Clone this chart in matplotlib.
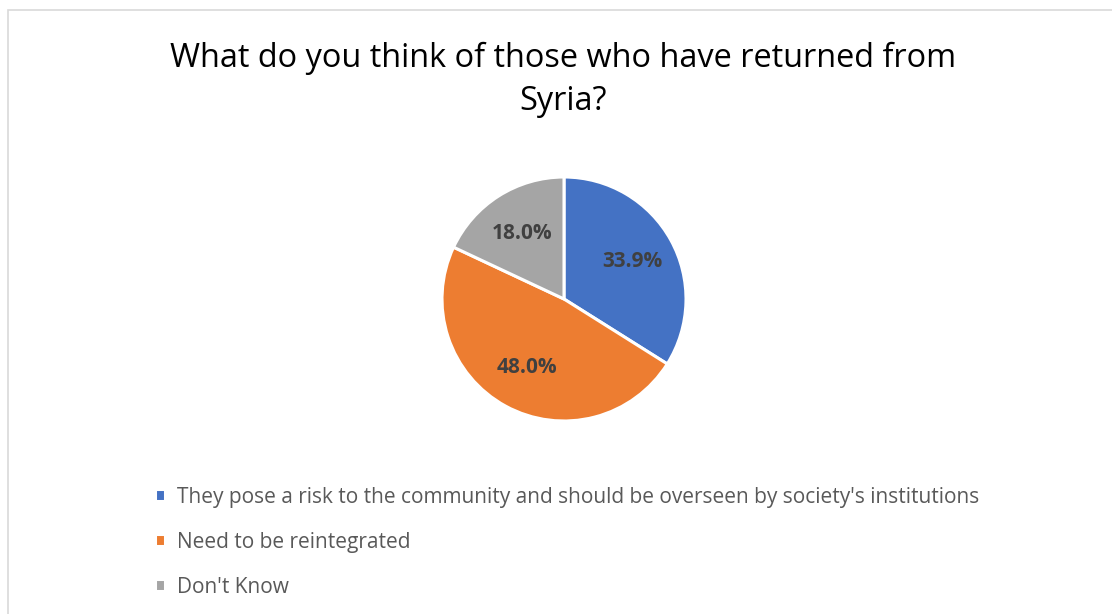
import matplotlib
matplotlib.use("Agg")
import matplotlib.pyplot as plt
from matplotlib.patches import Rectangle

title = "What do you think of those who have returned from\nSyria?"
categories = ["They pose a risk to the community and should be overseen by society's institutions",
              "Need to be reintegrated",
              "Don't Know"]
values = [33.9, 48.0, 18.0]
colors = ["#4472C4", "#ED7D31", "#A5A5A5"]

W, H = 1112, 614
fig = plt.figure(figsize=(W / 100, H / 100), dpi=100)
fig.patch.set_facecolor("white")

def fx(px):
    return px / W

def fy(py):
    return 1 - py / H

# chart frame
fig.patches.append(Rectangle((fx(8), fy(640)), fx(1130) - fx(8), fy(10) - fy(640),
                             transform=fig.transFigure, fill=False,
                             edgecolor="#D9D9D9", linewidth=1.2))

cx, cy, r = 564, 299, 122
ax = fig.add_axes([fx(cx - r), fy(cy + r), 2 * r / W, 2 * r / H])
labels_iter = iter(values)
wedges, texts, autotexts = ax.pie(
    values, colors=colors, startangle=90, counterclock=False,
    autopct=lambda p: f"{next(labels_iter):.1f}%", pctdistance=0.64,
    wedgeprops=dict(edgecolor="white", linewidth=2.2),
    textprops=dict(fontsize=15, fontweight="bold", color="#404040", family="Open Sans"))
ax.set_aspect("equal")
ax.set_xlim(-1, 1)
ax.set_ylim(-1, 1)

fig.text(fx(563), fy(80), title, ha="center", va="center", fontsize=23.4,
         family="Open Sans", color="black", linespacing=1.38)

fig.legend(wedges, categories, loc="upper left",
           bbox_to_anchor=(fx(136), fy(468)), frameon=False,
           prop=dict(family="Open Sans", size=15),
           labelcolor="#595959", handlelength=0.5, handleheight=0.5,
           handletextpad=0.55, labelspacing=1.15)

fig.savefig("out.png", dpi=100)
